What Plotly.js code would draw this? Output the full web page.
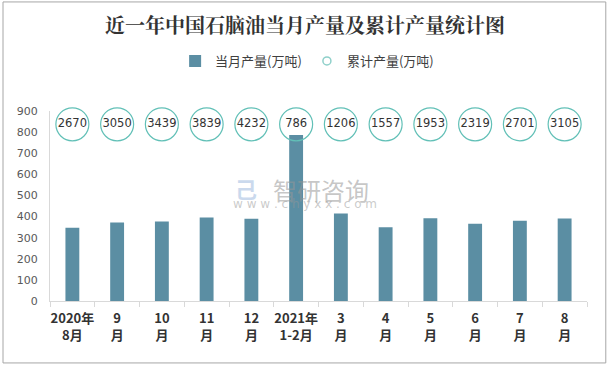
<!DOCTYPE html>
<html><head><meta charset="utf-8">
<script src="https://cdn.plot.ly/plotly-3.0.1.min.js"></script>
<style>html,body{margin:0;padding:0;background:#fff}#c{width:610px;height:367px}</style>
</head><body><div id="c"></div>
<script>
const categories = ["2020年<br>8月","9<br>月","10<br>月","11<br>月","12<br>月","2021年<br>1-2月","3<br>月","4<br>月","5<br>月","6<br>月","7<br>月","8<br>月"];
const monthly = [347, 372, 377, 396, 390, 786, 414, 349, 392, 366, 380, 391];
const cumulative = [2670, 3050, 3439, 3839, 4232, 786, 1206, 1557, 1953, 2319, 2701, 3105];
const labelRow = [837, 837, 837, 837, 837, 837, 837, 837, 837, 837, 837, 837];

const fontCJK = '"Noto Sans CJK SC", "Microsoft YaHei", sans-serif';
const teal = '#62c0b7';
const traces = [
  {type:'bar', x:categories, y:monthly, name:'当月产量(万吨)', width:0.31,
   marker:{color:'#5b8ea3'}, hoverinfo:'y', legendrank:1},
  {type:'scatter', mode:'markers+text', x:categories, y:labelRow, name:'累计产量(万吨)', showlegend:false,
   text:cumulative.map(String), textposition:'middle center',
   textfont:{family:'"DejaVu Sans", sans-serif', size:11.5, color:'#333'},
   marker:{symbol:'circle-open', size:33, color:teal, line:{width:1.2, color:teal}},
   cliponaxis:false},
  {type:'scatter', mode:'markers', x:[null], y:[null], name:'累计产量(万吨)', legendrank:2,
   marker:{symbol:'circle-open', size:8, color:'#8fd0ca', line:{width:1.5, color:'#8fd0ca'}}}
];
const layout = {
  width:610, height:367,
  margin:{l:50, r:23, t:111, b:66},
  paper_bgcolor:'#fff', plot_bgcolor:'#fff',
  title:{text:'<b>近一年中国石脑油当月产量及累计产量统计图</b>', x:0.5, xanchor:'center', y:0.93, yanchor:'middle',
         font:{family:'"Noto Serif CJK SC", "Noto Sans CJK SC", serif', size:20, color:'#333'}},
  showlegend:true,
  legend:{orientation:'h', x:0.233, xanchor:'left', y:1.263, yanchor:'middle', itemwidth:30,
          font:{family:fontCJK, size:13, color:'#404040'}, traceorder:'normal'},
  xaxis:{type:'category', range:[-0.5, 11.5], tickson:'boundaries', ticks:'outside', ticklen:5, tickcolor:'#d9d9d9',
         tickangle:0, showline:true, linecolor:'#d9d9d9', linewidth:1, showgrid:false, ticklabelstandoff:5,
         tickfont:{family:fontCJK, size:13, color:'#333', weight:'bold'}},
  yaxis:{range:[0,900], dtick:100, showgrid:false, showline:true, linecolor:'#d9d9d9', linewidth:1,
         ticks:'', ticklabelstandoff:9, tickfont:{family:'"DejaVu Sans", sans-serif', size:11, color:'#595959'}, zeroline:false},
  annotations:[
    {xref:'paper', yref:'paper', x:0.505, y:0.69, text:'智研咨询', showarrow:false,
     font:{family:fontCJK, size:24, color:'rgba(150,150,150,0.55)'}},
    {xref:'paper', yref:'paper', x:0.475, y:0.51, text:'w w w . c h y x x . c o m', showarrow:false,
     font:{family:'"DejaVu Sans", sans-serif', size:12, color:'rgba(150,150,150,0.5)'}},
    {xref:'paper', yref:'paper', x:0.365, y:0.69, text:'<b>己</b>', showarrow:false,
     font:{family:fontCJK, size:22, color:'rgba(150,180,220,0.5)'}}
  ],
  shapes:[{type:'rect', xref:'paper', yref:'paper', x0:-0.0875, x1:1.035, y0:-0.326, y1:1.574,
           line:{color:'#a6a6a6', width:1}, layer:'above'}]
};
Plotly.newPlot('c', traces, layout, {displayModeBar:false, staticPlot:true});
</script></body></html>
